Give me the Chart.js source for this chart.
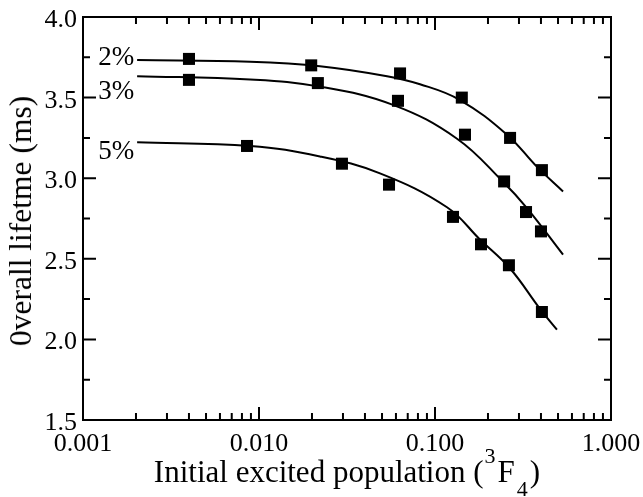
<!DOCTYPE html>
<html>
<head>
<meta charset="utf-8">
<script src="https://cdn.jsdelivr.net/npm/chart.js@4.4.1/dist/chart.umd.min.js"></script>
<style>
html,body{margin:0;padding:0;background:#fff;}
#wrap{width:643px;height:497px;position:relative;font-family:'Liberation Serif';color:#000;overflow:hidden;}
#c{position:absolute;left:0;top:0;}
.lbl{position:absolute;white-space:nowrap;}
#xt{position:absolute;left:0;top:456px;width:694px;text-align:center;font-size:31px;line-height:31px;white-space:nowrap;}
#xt .sup{font-size:22px;position:relative;top:-19px;padding:0 2px 0 1px;}
#xt .sub{font-size:22px;position:relative;top:14px;padding:0 2px;}
#yt{position:absolute;left:21px;top:221px;font-size:31.5px;line-height:32px;white-space:nowrap;transform:translate(-50%,-50%) rotate(-90deg);}
</style>
</head>
<body>
<div id="wrap">
<canvas id="c" width="643" height="497"></canvas>
<div id="xt"></div>
<div id="yt"></div>
</div>
<script>
// ---- data ----
const seriesNames = ["2%", "3%", "5%"];

const x2 = [0.0040, 0.0198, 0.0633, 0.142, 0.267, 0.405];
const y2 = [3.74, 3.70, 3.65, 3.50, 3.25, 3.05];

const x3 = [0.0040, 0.0216, 0.0616, 0.148, 0.247, 0.329, 0.400];
const y3 = [3.61, 3.59, 3.48, 3.27, 2.98, 2.79, 2.67];

const x5 = [0.00855, 0.0296, 0.0548, 0.1265, 0.1825, 0.263, 0.405];
const y5 = [3.20, 3.09, 2.96, 2.76, 2.59, 2.46, 2.17];

// fitted curves
const fit2x = [0.00203, 0.0089, 0.0222, 0.0534, 0.0822, 0.1387, 0.2565, 0.380, 0.534];
const fit2y = [3.733, 3.722, 3.695, 3.633, 3.583, 3.485, 3.27, 3.07, 2.918];

const fit3x = [0.00203, 0.0089, 0.0222, 0.0577, 0.1334, 0.2434, 0.333, 0.534];
const fit3y = [3.633, 3.612, 3.568, 3.455, 3.245, 2.978, 2.815, 2.526];

const fit5x = [0.00203, 0.0089, 0.0222, 0.0487, 0.117, 0.180, 0.267, 0.395, 0.493];
const fit5y = [3.223, 3.20, 3.135, 3.03, 2.82, 2.62, 2.44, 2.19, 2.06];

const xMajorTicks = [0.001, 0.01, 0.1, 1];
const xTickLabels = ["0.001", "0.010", "0.100", "1.000"];
const yMajorTicks = [1.5, 2.0, 2.5, 3.0, 3.5, 4.0];
const yTickLabels = ["1.5", "2.0", "2.5", "3.0", "3.5", "4.0"];
const yMinorTicks = [1.75, 2.25, 2.75, 3.25, 3.75];
const xMinorMultipliers = [2, 3, 4, 5, 6, 7, 8, 9];

const yTitle = "0verall lifetme (ms)";
const xTitleMain = "Initial excited population (";
const xTitleSup = "3";
const xTitleSym = "F";
const xTitleSub = "4";
const xTitleEnd = ")";

// ---- titles as real text ----
(function () {
  const xt = document.getElementById('xt');
  xt.appendChild(document.createTextNode(xTitleMain));
  const s1 = document.createElement('span'); s1.className = 'sup'; s1.textContent = xTitleSup; xt.appendChild(s1);
  xt.appendChild(document.createTextNode(xTitleSym));
  const s2 = document.createElement('span'); s2.className = 'sub'; s2.textContent = xTitleSub; xt.appendChild(s2);
  xt.appendChild(document.createTextNode(xTitleEnd));
  document.getElementById('yt').textContent = yTitle;
})();

// ---- chart ----
const pts = (xs, ys) => xs.map((x, i) => ({x: x, y: ys[i]}));
const fitSets = [pts(fit2x, fit2y), pts(fit3x, fit3y), pts(fit5x, fit5y)];
const markSets = [pts(x2, y2), pts(x3, y3), pts(x5, y5)];
const labelOffsets = [-4, 14, 8];

const datasets = [];
fitSets.forEach((d, i) => datasets.push({
  type: 'line', label: seriesNames[i] + " fit", data: d,
  borderColor: '#000', borderWidth: 2, pointRadius: 0,
  tension: 0.4, fill: false, order: 2
}));
markSets.forEach((d, i) => datasets.push({
  type: 'scatter', label: seriesNames[i], data: d,
  pointStyle: 'rect', pointRadius: 8.5, pointBackgroundColor: '#000',
  pointBorderColor: '#000', pointBorderWidth: 0, showLine: false, order: 1
}));

function addText(txt, x, yCenter, align, size) {
  const el = document.createElement('div');
  el.className = 'lbl';
  el.textContent = txt;
  el.style.fontSize = size + 'px';
  el.style.lineHeight = size + 'px';
  el.style.top = (yCenter - size / 2) + 'px';
  el.style.width = '200px';
  el.style.textAlign = align;
  el.style.left = (align === 'right' ? x - 200 : x - 100) + 'px';
  document.getElementById('wrap').appendChild(el);
}

let labelsDone = false;
const framePlugin = {
  id: 'frame',
  afterDraw(chart) {
    const ctx = chart.ctx, a = chart.chartArea;
    const xs = chart.scales.x, ys = chart.scales.y;
    ctx.save();
    ctx.strokeStyle = '#000';
    ctx.lineWidth = 2;
    ctx.strokeRect(a.left, a.top, a.right - a.left, a.bottom - a.top);
    ctx.beginPath();
    const tick = (x1, y1, x2_, y2_) => { ctx.moveTo(x1, y1); ctx.lineTo(x2_, y2_); };
    xMajorTicks.forEach((v, k) => {
      const px = xs.getPixelForValue(v);
      tick(px, a.bottom, px, a.bottom - 13);
      tick(px, a.top, px, a.top + 13);
      if (k < xMajorTicks.length - 1) {
        xMinorMultipliers.forEach(m => {
          const qx = xs.getPixelForValue(v * m);
          tick(qx, a.bottom, qx, a.bottom - 7);
          tick(qx, a.top, qx, a.top + 7);
        });
      }
    });
    yMajorTicks.forEach(v => {
      const py = ys.getPixelForValue(v);
      tick(a.left, py, a.left + 13, py);
      tick(a.right, py, a.right - 13, py);
    });
    yMinorTicks.forEach(v => {
      const py = ys.getPixelForValue(v);
      tick(a.left, py, a.left + 7, py);
      tick(a.right, py, a.right - 7, py);
    });
    ctx.stroke();
    ctx.restore();

    if (labelsDone) return;
    labelsDone = true;
    // tick labels (real text), positioned by the chart scales
    yMajorTicks.forEach((v, k) => addText(yTickLabels[k], a.left - 6, ys.getPixelForValue(v) + 2, 'right', 26));
    xMajorTicks.forEach((v, k) => addText(xTickLabels[k], xs.getPixelForValue(v), a.bottom + 23, 'center', 26));
    // series labels at the start of each fitted curve
    fitSets.forEach((d, i) => addText(seriesNames[i], xs.getPixelForValue(d[0].x) - 3,
      ys.getPixelForValue(d[0].y) + labelOffsets[i], 'right', 27));
  }
};

new Chart(document.getElementById('c'), {
  data: {datasets: datasets},
  options: {
    responsive: false,
    animation: false,
    events: [],
    layout: {padding: {top: 17, right: 32, left: 0, bottom: 0}},
    plugins: {legend: {display: false}, tooltip: {enabled: false}},
    scales: {
      x: {
        type: 'logarithmic', min: 0.001, max: 1,
        grid: {display: false, drawTicks: false},
        border: {display: false},
        ticks: {display: false},
        afterFit(scale) { scale.height = 77; }
      },
      y: {
        type: 'linear', min: 1.5, max: 4.0,
        grid: {display: false, drawTicks: false},
        border: {display: false},
        ticks: {display: false},
        afterFit(scale) { scale.width = 83; }
      }
    }
  },
  plugins: [framePlugin]
});
</script>
</body>
</html>
